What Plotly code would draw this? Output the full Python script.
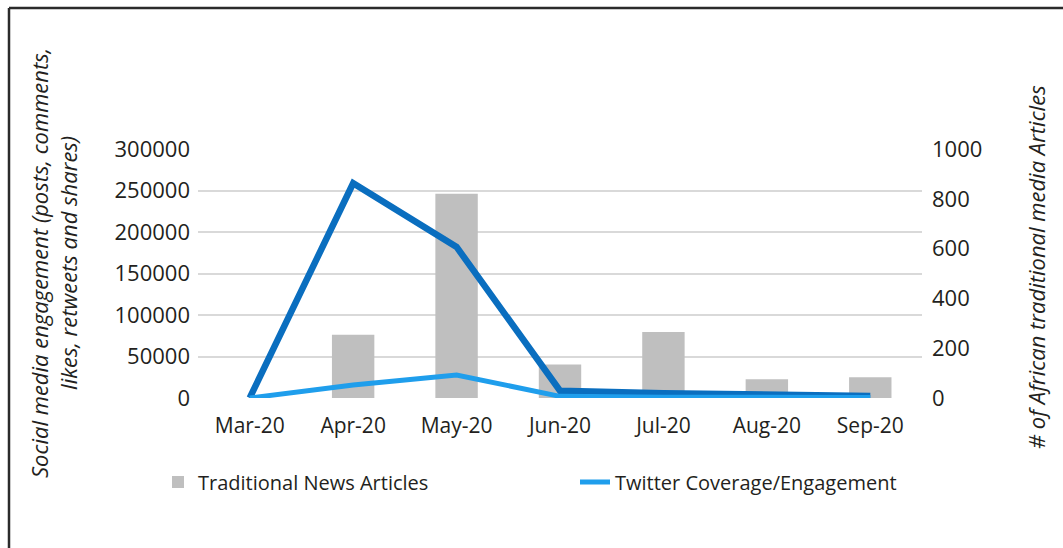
import plotly.graph_objects as go

months = ["Mar-20", "Apr-20", "May-20", "Jun-20", "Jul-20", "Aug-20", "Sep-20"]
news_articles = [0, 254, 820, 135, 265, 75, 83]
social_engagement = [0, 258700, 182000, 8800, 5700, 3600, 2400]
twitter_engagement = [0, 15700, 27700, 2000, 1000, 600, 500]

left_ticks = [0, 50000, 100000, 150000, 200000, 250000, 300000]
right_ticks = [0, 200, 400, 600, 800, 1000]

FONT = "Open Sans"
TXT = "#231F20"

fig = go.Figure()
fig.add_trace(go.Bar(
    x=months, y=news_articles, name="Traditional News Articles",
    marker=dict(color="#BFBFBF", line=dict(width=0)), width=0.41,
    yaxis="y", showlegend=True,
))
fig.add_trace(go.Scatter(
    x=months, y=social_engagement, name="Social Media Engagement",
    mode="lines", line=dict(color="#0A6EBF", width=6.5),
    yaxis="y2", showlegend=False,
))
fig.add_trace(go.Scatter(
    x=months, y=twitter_engagement, name="Twitter Coverage/Engagement",
    mode="lines", line=dict(color="#1F9EEC", width=5),
    yaxis="y2", showlegend=True,
))

W, H = 1063, 548
L, R, T, B = 198, 141, 149, 150
pw, ph = W - L - R, H - T - B

def px(x):
    return (x - L) / pw

def py(y):
    return (H - B - y) / ph

fig.update_layout(
    width=W, height=H,
    margin=dict(l=L, r=R, t=T, b=B, pad=0),
    paper_bgcolor="white", plot_bgcolor="white",
    font=dict(family=FONT, size=20, color=TXT),
    xaxis=dict(
        type="category", categoryorder="array", categoryarray=months,
        showgrid=False, showline=False, zeroline=False, ticks="",
        tickfont=dict(size=21, family=FONT, color=TXT),
        ticklabelstandoff=13,
    ),
    yaxis=dict(
        side="right", range=[0, 1000], tickvals=right_ticks,
        showgrid=False, zeroline=False, showline=False, ticks="",
        tickfont=dict(size=22, family=FONT, color=TXT),
        ticklabelstandoff=9,
    ),
    yaxis2=dict(
        overlaying="y", side="left", range=[0, 300000], tickvals=left_ticks,
        tickformat="d",
        showgrid=True, gridcolor="#D9D9D9", gridwidth=1.5,
        zeroline=False, showline=False, ticks="",
        tickfont=dict(size=22, family=FONT, color=TXT),
        ticklabelstandoff=7,
    ),
    legend=dict(
        orientation="h", x=px(158), xanchor="left", y=py(482), yanchor="middle",
        font=dict(size=20, family=FONT, color=TXT),
        entrywidth=372, entrywidthmode="pixels", itemwidth=30,
        bgcolor="rgba(0,0,0,0)", traceorder="normal",
    ),
    annotations=[
        dict(text="<i>Social media engagement (posts, comments,<br>likes, retweets and shares)</i>",
             xref="paper", yref="paper", x=px(53), y=py(263), textangle=-90,
             showarrow=False, font=dict(size=22, family=FONT, color=TXT),
             xanchor="center", yanchor="middle", align="center"),
        dict(text="<i># of African traditional media Articles</i>",
             xref="paper", yref="paper", x=px(1036), y=py(267), textangle=-90,
             showarrow=False, font=dict(size=22, family=FONT, color=TXT),
             xanchor="center", yanchor="middle"),
    ],
    shapes=[
        dict(type="line", xref="paper", yref="paper", x0=px(9), x1=px(1070),
             y0=py(8), y1=py(8), line=dict(color="#2B2B2B", width=2.5)),
        dict(type="line", xref="paper", yref="paper", x0=px(9), x1=px(9),
             y0=py(8), y1=py(560), line=dict(color="#2B2B2B", width=2.5)),
    ],
)

fig.write_html("out.html")
